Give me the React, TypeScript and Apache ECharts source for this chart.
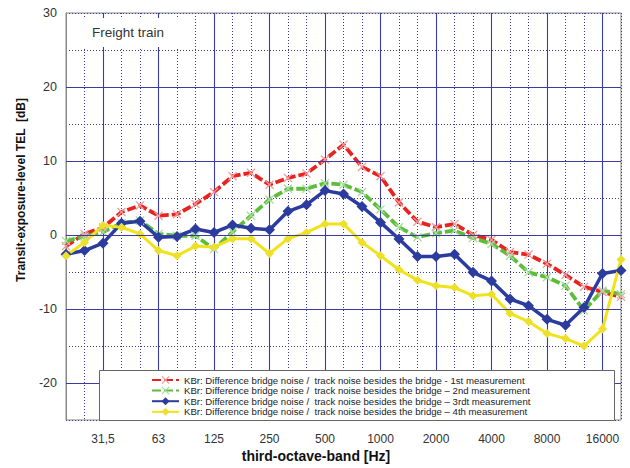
import React, { useEffect, useRef } from "react";
import * as echarts from "echarts";

const bands = ["20","25","31,5","40","50","63","80","100","125","160","200","250","315","400","500","630","800","1000","1250","1600","2000","2500","3150","4000","5000","6300","8000","10000","12500","16000","20000"];
const yTickValues = [-20, -10, 0, 10, 20];

const seriesNames = [
  "KBr: Difference bridge noise /  track noise besides the bridge - 1st measurement",
  "KBr: Difference bridge noise /  track noise besides the bridge – 2nd measurement",
  "KBr: Difference bridge noise /  track noise besides the bridge – 3rdt measurement",
  "KBr: Difference bridge noise /  track noise besides the bridge – 4th measurement",
];

const red = [-1.5, 0.15, 1.0, 3.1, 4.0, 2.6, 2.8, 4.2, 5.8, 7.95, 8.4, 6.8, 7.7, 8.3, 10.2, 12.2, 9.2, 7.95, 4.4, 1.8, 1.05, 1.5, 0.0, -0.65, -2.3, -2.65, -3.9, -5.4, -7.0, -7.7, -8.35];
const green = [-0.8, -0.2, 0.4, 1.6, 1.95, 0.15, -0.1, -0.1, -1.9, 0.4, 2.6, 4.8, 6.25, 6.25, 7.0, 6.8, 5.8, 3.45, 1.05, -0.3, 0.25, 0.6, -0.4, -1.2, -2.8, -5.05, -5.7, -6.85, -10.2, -7.5, -8.0];
const blue = [-2.6, -2.1, -1.1, 1.6, 1.85, -0.3, -0.2, 0.8, 0.35, 1.35, 0.9, 0.7, 3.2, 4.1, 6.0, 5.55, 3.85, 1.7, -0.55, -2.9, -2.9, -2.6, -5.05, -6.2, -8.65, -9.55, -11.4, -12.2, -9.8, -5.2, -4.8];
const yellow = [-2.8, -1.0, 1.3, 1.05, 0.15, -2.1, -2.8, -1.5, -1.65, -0.5, -0.5, -2.5, -0.5, 0.35, 1.5, 1.5, -1.0, -2.8, -4.7, -6.1, -6.85, -7.1, -8.2, -8.0, -10.6, -11.7, -13.3, -14.0, -15.0, -12.7, -3.3];

const FONT = "'Liberation Sans', Arial, sans-serif";
const GRID_COLOR = "#3b3ba6";
const CROSS = "path://M0,1L1,0L5,4L9,0L10,1L6,5L10,9L9,10L5,6L1,10L0,9L4,5Z";

export default function App() {
  const ref = useRef<HTMLDivElement>(null);
  useEffect(() => {
    if (!ref.current) return;
    const chart = echarts.init(ref.current, undefined, { renderer: "svg" });
    const lineSeries = (name: string, data: number[], color: string, dashed: boolean, symbol: string, symbolSize: number, markerColor: string, width: number) => ({
      name,
      type: "line",
      data,
      xAxisIndex: 0,
      yAxisIndex: 0,
      symbol,
      symbolSize,
      showAllSymbol: true,
      z: 3,
      lineStyle: { color, width, type: dashed ? [9, 3] : "solid" },
      itemStyle: { color: markerColor, borderWidth: 0 },
    });
    chart.setOption({
      animation: false,
      backgroundColor: "#ffffff",
      textStyle: { fontFamily: FONT },
      grid: { left: 66, right: 9, top: 13, bottom: 48, show: true, borderColor: "#888", borderWidth: 1, backgroundColor: "transparent" },
      xAxis: [
        {
          type: "category",
          data: bands,
          boundaryGap: false,
          axisLine: { show: true, lineStyle: { color: "#888" } },
          axisTick: { show: false },
          axisLabel: { interval: (i: number) => i % 3 === 2, fontSize: 12, color: "#333", margin: 13, fontFamily: FONT },
          splitLine: { show: true, interval: 0, lineStyle: { color: GRID_COLOR, width: 1, type: [1, 2] } },
        },
        {
          type: "category",
          data: bands,
          boundaryGap: false,
          position: "bottom",
          axisLine: { show: false },
          axisTick: { show: false },
          axisLabel: { show: false },
          splitLine: { show: true, interval: (i: number) => i % 3 === 2, lineStyle: { color: GRID_COLOR, width: 1.1, type: "solid" } },
        },
      ],
      yAxis: {
        type: "value",
        min: -25,
        max: 30,
        interval: 5,
        axisLine: { show: true, lineStyle: { color: "#888" } },
        axisTick: { show: false },
        axisLabel: { formatter: (v: number) => (v % 10 === 0 ? String(v) : ""), fontSize: 12.5, color: "#333", margin: 9, fontFamily: FONT },
        splitLine: { show: true, lineStyle: { color: GRID_COLOR, width: 1, type: [1, 2] } },
      },
      legend: {
        data: seriesNames,
        orient: "vertical",
        left: 151,
        top: 375,
        itemWidth: 27,
        itemHeight: 10,
        itemGap: 0.6,
        padding: 0,
        z: 20,
        textStyle: { fontSize: 9.6, color: "#222", fontFamily: FONT },
      },
      series: [
        {
          name: "grid",
          type: "line",
          data: [],
          z: 1,
          silent: true,
          markLine: {
            silent: true,
            symbol: "none",
            label: { show: false },
            lineStyle: { color: GRID_COLOR, width: 1.1, type: "solid" },
            data: yTickValues.map((v) => ({ yAxis: v })),
          },
        },
        lineSeries(seriesNames[0], red, "#e8231f", true, CROSS, 9, "#f29a9a", 3.8),
        lineSeries(seriesNames[1], green, "#5cbd3a", true, CROSS, 9, "#a6dc9c", 3.8),
        lineSeries(seriesNames[2], blue, "#2b3b9e", false, "diamond", 11, "#2b3b9e", 3.5),
        lineSeries(seriesNames[3], yellow, "#f2e21a", false, "diamond", 9, "#ece02a", 3),
      ],
      graphic: [
        { type: "rect", z: 10, shape: { x: 70, y: 18, width: 108, height: 29 }, style: { fill: "#fff" } },
        { type: "text", z: 11, x: 92, y: 32, style: { text: "Freight train", font: `13.5px ${FONT}`, fill: "#333", textVerticalAlign: "middle" } },
        { type: "rect", z: 10, shape: { x: 99.5, y: 370.5, width: 515, height: 50 }, style: { fill: "#fff", stroke: "#666", lineWidth: 1 } },
        { type: "text", z: 11, x: 21, y: 190, rotation: Math.PI / 2, style: { text: "Transit-exposure-level TEL  [dB]", font: `bold 12px ${FONT}`, fill: "#111", textAlign: "center", textVerticalAlign: "middle" } },
        { type: "text", z: 11, x: 316, y: 456, style: { text: "third-octave-band [Hz]", font: `bold 14px ${FONT}`, fill: "#111", textAlign: "center", textVerticalAlign: "middle" } },
      ],
    });
    return () => chart.dispose();
  }, []);
  return <div ref={ref} style={{ position: "fixed", left: 0, top: 0, width: 630, height: 468 }} />;
}
